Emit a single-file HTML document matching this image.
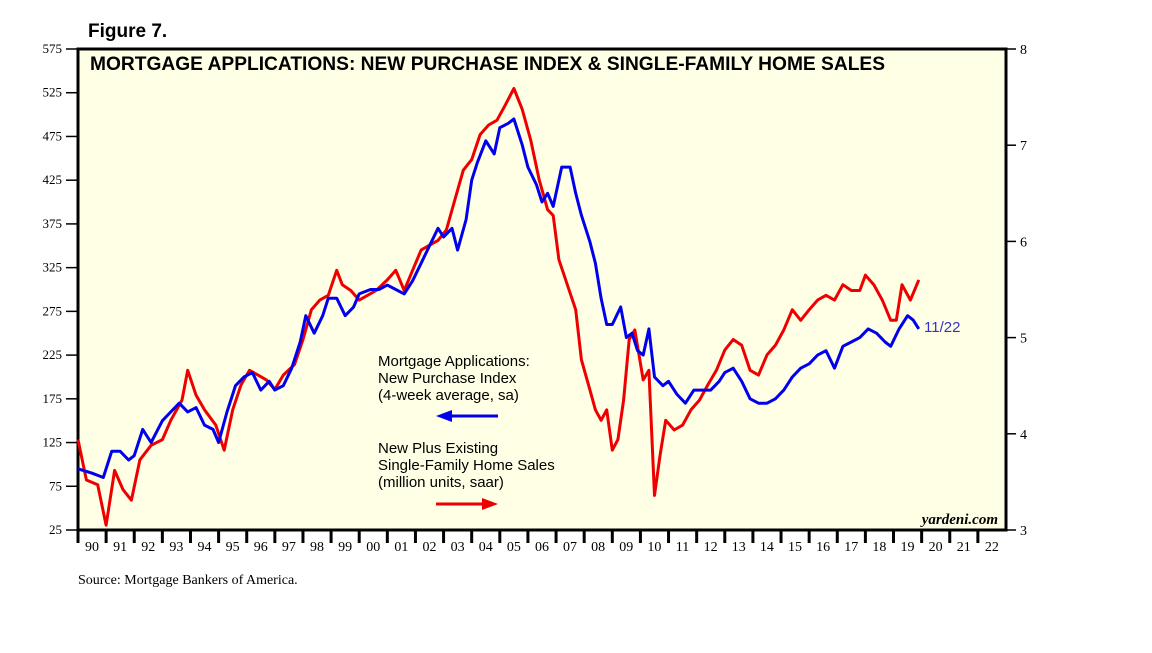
<!DOCTYPE html>
<html><head><meta charset="utf-8"><style>
body{margin:0;background:#fff;}
svg text{font-family:"Liberation Sans",sans-serif;}
.serif{font-family:"Liberation Serif",serif;}
</style></head><body>
<svg id="chart" width="1152" height="648" viewBox="0 0 1152 648">
<text x="88" y="37" font-size="19" font-weight="bold">Figure 7.</text>
<rect x="78" y="49" width="928" height="481" fill="#ffffe6" stroke="#000" stroke-width="3"/>
<text x="90" y="70" font-size="19" font-weight="bold" textLength="795" lengthAdjust="spacingAndGlyphs">MORTGAGE APPLICATIONS: NEW PURCHASE INDEX &amp; SINGLE-FAMILY HOME SALES</text>
<g id="axes"></g>
<g id="series"></g>
<text x="378" y="366" font-size="15"><tspan x="378">Mortgage Applications:</tspan><tspan x="378" dy="17">New Purchase Index</tspan><tspan x="378" dy="17">(4-week average, sa)</tspan></text>
<g><line x1="450" y1="416" x2="498" y2="416" stroke="#0000ee" stroke-width="3"/><polygon points="436,416 452,410 452,422" fill="#0000ee"/></g>
<text x="378" y="453" font-size="15"><tspan x="378">New Plus Existing</tspan><tspan x="378" dy="17">Single-Family Home Sales</tspan><tspan x="378" dy="17">(million units, saar)</tspan></text>
<g><line x1="436" y1="504" x2="484" y2="504" stroke="#ee0000" stroke-width="3"/><polygon points="498,504 482,498 482,510" fill="#ee0000"/></g>
<text x="924" y="332" font-size="15" fill="#3333cc">11/22</text>
<text x="998" y="524" font-size="15" font-style="italic" font-weight="bold" class="serif" text-anchor="end">yardeni.com</text>
<text x="78" y="584" font-size="14" class="serif">Source: Mortgage Bankers of America.</text>
</svg>
<script>
const leftTicks=[25,75,125,175,225,275,325,375,425,475,525,575];
const rightTicks=[3,4,5,6,7,8];
const yearLabels=["90","91","92","93","94","95","96","97","98","99","00","01","02","03","04","05","06","07","08","09","10","11","12","13","14","15","16","17","18","19","20","21","22"];
const blueDates=[1990.0,1990.5,1990.9,1991.2,1991.5,1991.8,1992.0,1992.3,1992.6,1993.0,1993.3,1993.6,1993.9,1994.2,1994.5,1994.8,1995.0,1995.3,1995.6,1995.9,1996.2,1996.5,1996.8,1997.0,1997.3,1997.6,1997.9,1998.1,1998.4,1998.7,1998.9,1999.2,1999.5,1999.8,2000.0,2000.4,2000.7,2001.0,2001.3,2001.6,2001.9,2002.2,2002.5,2002.8,2003.0,2003.3,2003.5,2003.8,2004.0,2004.2,2004.5,2004.8,2005.0,2005.3,2005.5,2005.8,2006.0,2006.3,2006.5,2006.7,2006.9,2007.2,2007.5,2007.7,2007.9,2008.2,2008.4,2008.6,2008.8,2009.0,2009.3,2009.5,2009.7,2009.9,2010.1,2010.3,2010.5,2010.8,2011.0,2011.3,2011.6,2011.9,2012.2,2012.5,2012.8,2013.0,2013.3,2013.6,2013.9,2014.2,2014.5,2014.8,2015.1,2015.4,2015.7,2016.0,2016.3,2016.6,2016.9,2017.2,2017.5,2017.8,2018.1,2018.4,2018.7,2018.9,2019.2,2019.5,2019.7,2019.9];
const blueValues=[95,90,85,115,115,105,110,140,125,150,160,170,160,165,145,140,125,160,190,200,205,185,195,185,190,210,240,270,250,270,290,290,270,280,295,300,300,305,300,295,310,330,350,370,360,370,345,380,425,445,470,455,485,490,495,465,440,420,400,410,395,440,440,410,385,355,330,290,260,260,280,245,250,230,225,255,200,190,195,180,170,185,185,185,195,205,210,195,175,170,170,175,185,200,210,215,225,230,210,235,240,245,255,250,240,235,255,270,265,255];
const redDates=[1990.0,1990.3,1990.7,1991.0,1991.3,1991.6,1991.9,1992.2,1992.6,1993.0,1993.3,1993.7,1993.9,1994.2,1994.5,1994.9,1995.2,1995.5,1995.8,1996.1,1996.4,1996.7,1997.0,1997.3,1997.7,1998.0,1998.3,1998.6,1998.9,1999.2,1999.4,1999.7,2000.0,2000.3,2000.6,2001.0,2001.3,2001.6,2001.9,2002.2,2002.5,2002.8,2003.1,2003.4,2003.7,2004.0,2004.3,2004.6,2004.9,2005.2,2005.5,2005.8,2006.1,2006.4,2006.7,2006.9,2007.1,2007.4,2007.7,2007.9,2008.2,2008.4,2008.6,2008.8,2009.0,2009.2,2009.4,2009.6,2009.8,2010.1,2010.3,2010.5,2010.7,2010.9,2011.2,2011.5,2011.8,2012.1,2012.4,2012.7,2013.0,2013.3,2013.6,2013.9,2014.2,2014.5,2014.8,2015.1,2015.4,2015.7,2016.0,2016.3,2016.6,2016.9,2017.2,2017.5,2017.8,2018.0,2018.3,2018.6,2018.9,2019.1,2019.3,2019.6,2019.9];
const redValues=[3.94,3.52,3.47,3.05,3.62,3.42,3.31,3.73,3.88,3.94,4.14,4.35,4.66,4.40,4.25,4.09,3.83,4.25,4.51,4.66,4.61,4.56,4.46,4.61,4.72,4.98,5.29,5.39,5.44,5.70,5.55,5.49,5.39,5.44,5.49,5.60,5.70,5.49,5.70,5.91,5.96,6.01,6.12,6.43,6.74,6.85,7.11,7.21,7.26,7.42,7.59,7.37,7.05,6.64,6.33,6.27,5.81,5.55,5.29,4.77,4.46,4.25,4.14,4.25,3.83,3.94,4.35,4.98,5.08,4.56,4.66,3.36,3.78,4.14,4.04,4.09,4.25,4.35,4.51,4.66,4.87,4.98,4.92,4.66,4.61,4.82,4.92,5.08,5.29,5.18,5.29,5.39,5.44,5.39,5.55,5.49,5.49,5.65,5.55,5.39,5.18,5.18,5.55,5.39,5.60];

const X0=78,X1=1006,YT=49,YB=530;
const xScale=d=>X0+(d-1990)*(X1-X0)/33;
const yLeft=v=>YB-(v-25)*(YB-YT)/550;
const yRight=v=>YB-(v-3)*(YB-YT)/5;
const NS="http://www.w3.org/2000/svg";
function mk(tag,attrs,parent){const e=document.createElementNS(NS,tag);for(const k in attrs)e.setAttribute(k,attrs[k]);parent.appendChild(e);return e;}
const axes=document.getElementById('axes');
leftTicks.forEach(v=>{
  const y=yLeft(v);
  const t=mk('line',{x1:66,x2:78,y1:y,y2:y,stroke:'#000','stroke-width':1.5},axes);
  
  
  const l=mk('text',{x:62,y:y+4,'font-size':13,'text-anchor':'end',class:'serif'},axes);
  l.textContent=v;
  
  
});
rightTicks.forEach(v=>{
  const y=yRight(v);
  const t=mk('line',{x1:1006,x2:1016,y1:y,y2:y,stroke:'#000','stroke-width':1.5},axes);
  
  
  const l=mk('text',{x:1020,y:y+5,'font-size':14,class:'serif'},axes);
  l.textContent=v;
  
  
});
yearLabels.forEach((lab,i)=>{
  const x=xScale(1990+i);
  const t=mk('line',{x1:x,x2:x,y1:530,y2:543,stroke:'#000','stroke-width':3},axes);
  
  
  const l=mk('text',{x:x+14,y:551,'font-size':14,'text-anchor':'middle',class:'serif'},axes);
  l.textContent=lab;
  
  
});
const ser=document.getElementById('series');
const rp=redDates.map((d,i)=>xScale(d).toFixed(1)+','+yRight(redValues[i]).toFixed(1)).join(' ');
const red=mk('polyline',{points:rp,fill:'none',stroke:'#ee0000','stroke-width':3,'stroke-linejoin':'round'},ser);


const bp=blueDates.map((d,i)=>xScale(d).toFixed(1)+','+yLeft(blueValues[i]).toFixed(1)).join(' ');
const blue=mk('polyline',{points:bp,fill:'none',stroke:'#0000ee','stroke-width':3,'stroke-linejoin':'round'},ser);


</script>
</body></html>
